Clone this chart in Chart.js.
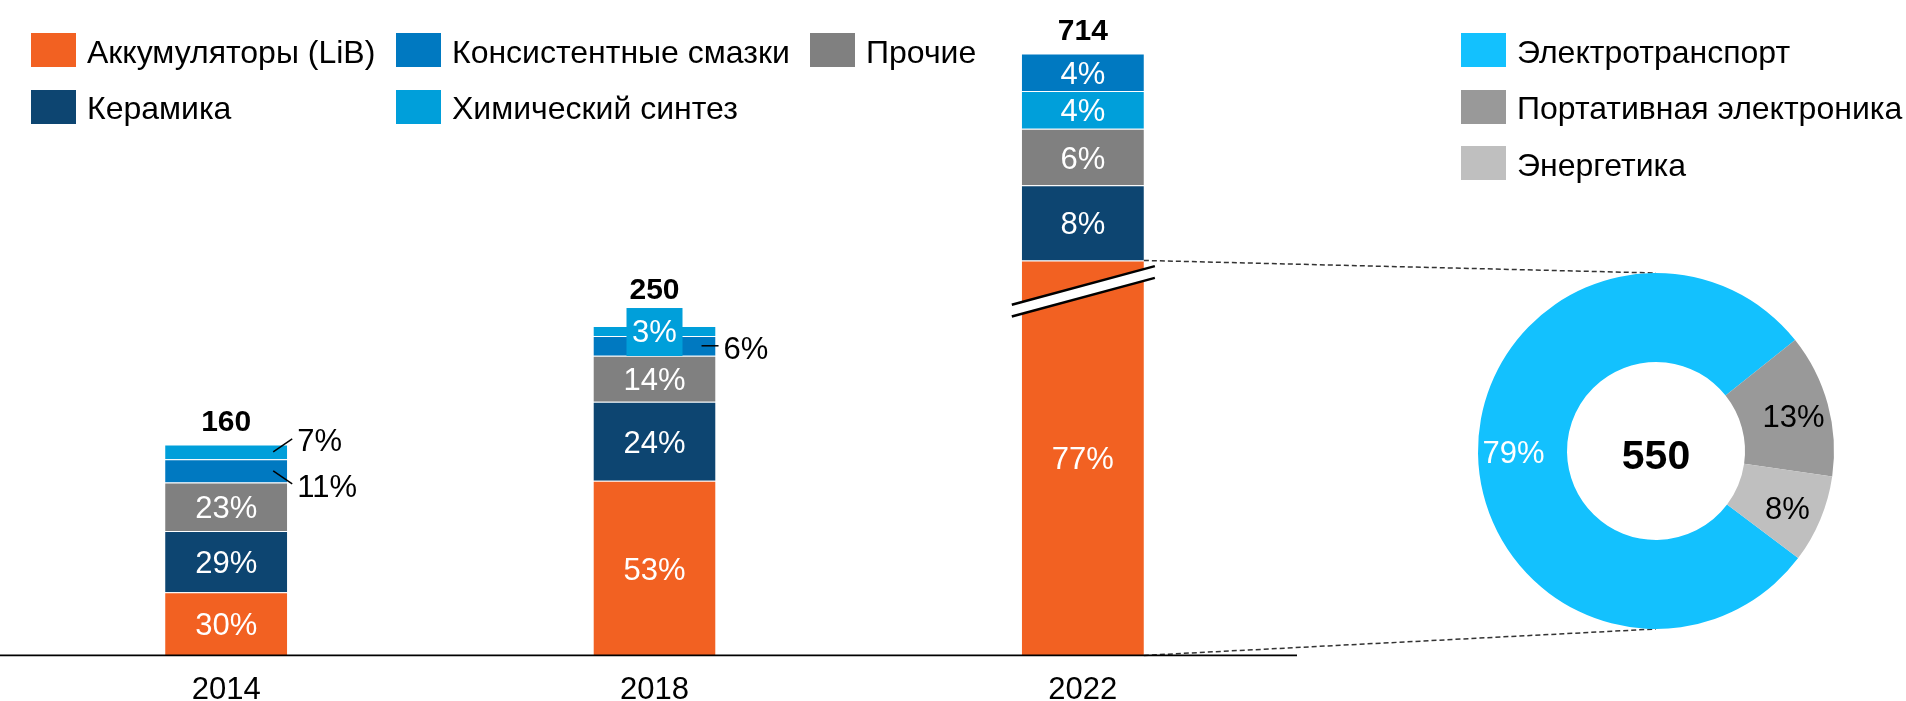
<!DOCTYPE html>
<html lang="ru">
<head>
<meta charset="utf-8">
<script src="https://cdn.jsdelivr.net/npm/chart.js@4.4.1/dist/chart.umd.min.js"></script>
<style>
  html, body { margin: 0; padding: 0; background: #fff; overflow: hidden; }
  body { width: 1906px; height: 701px; position: relative; font-family: "Liberation Sans", Arial, sans-serif; }
  canvas { position: absolute; left: 0; top: 0; }
  .legend { position: absolute; display: grid; row-gap: 22.7px; font-size: 32px; color: #000; }
  .item { display: flex; align-items: center; white-space: nowrap; height: 34px; }
  .sw { width: 45px; height: 34px; margin-right: 11px; flex: none; }
  .item span { position: relative; top: 2px; }
</style>
</head>
<body>
<canvas id="barChart" width="1906" height="740"></canvas>
<canvas id="donutChart" width="1906" height="740"></canvas>
<div id="legendLeft" class="legend" style="left:31px; top:33px; grid-template-columns: 365px 414px auto;"></div>
<div id="legendRight" class="legend" style="left:1461px; top:33px; grid-template-columns: auto;"></div>
<script>
const FONT = '"Liberation Sans", Arial, sans-serif';

// Рынок по годам
const years = ['2014', '2018', '2022'];
const totals = [160, 250, 714];
const segments = ['Аккумуляторы (LiB)', 'Керамика', 'Прочие', 'Консистентные смазки', 'Химический синтез'];
const segmentColors = ['#f26122', '#0d4571', '#808080', '#0079c1', '#009fda'];
const shareLiB     = [30, 53, 77];
const shareCeramic = [29, 24, 8];
const shareOther   = [23, 14, 6];
const shareGrease  = [11, 6, 4];
const shareSynth   = [7, 3, 4];

// порядок сегментов снизу вверх в каждом столбце
const stackOrder = [
    [0, 1, 2, 3, 4],
    [0, 1, 2, 3, 4],
    [0, 1, 2, 4, 3]
];
// разрыв оси: сколько единиц LiB 2022 не показано
const AXIS_BREAK = 250;

// LiB 2022 по областям применения
const uses = ['Электротранспорт', 'Портативная электроника', 'Энергетика'];
const useShares = [79, 13, 8];
const useColors = ['#13c1fe', '#999999', '#bfbfbf'];
const lib2022 = 550;

const shares = [shareLiB, shareCeramic, shareOther, shareGrease, shareSynth];
const ranges = segments.map(() => []);
years.forEach((y, i) => {
    let base = 0;
    stackOrder[i].forEach(s => {
        let v = shares[s][i] * totals[i] / 100;
        if (i === 2 && s === 0) v -= AXIS_BREAK;
        ranges[s][i] = [base, base + v];
        base += v;
    });
});

// мелкие сегменты: выноски
const callouts = { '0-4': 'up', '0-3': 'down', '1-3': 'flat', '1-4': 'box' };

// легенды
const legendLeftOrder = [0, 3, 2, 1, 4];
document.getElementById('legendLeft').innerHTML = legendLeftOrder.map(s =>
    `<div class="item"><div class="sw" style="background:${segmentColors[s]}"></div><span>${segments[s]}</span></div>`).join('');
document.getElementById('legendRight').innerHTML = uses.map((u, i) =>
    `<div class="item"><div class="sw" style="background:${useColors[i]}"></div><span>${u}</span></div>`).join('');

const donutLabels = {
    id: 'donutLabels',
    afterDatasetsDraw(chart) {
        const ctx = chart.ctx;
        const arcs = chart.getDatasetMeta(0).data;
        ctx.save();
        ctx.textAlign = 'center';
        ctx.textBaseline = 'middle';
        ctx.font = `31px ${FONT}`;
        arcs.forEach((arc, i) => {
            const p = arc.getProps(['x', 'y', 'startAngle', 'endAngle', 'innerRadius', 'outerRadius'], true);
            const mid = (p.startAngle + p.endAngle) / 2;
            const r = p.innerRadius + (p.outerRadius - p.innerRadius) * 0.6;
            ctx.fillStyle = i === 0 ? '#fff' : '#000';
            ctx.fillText(useShares[i] + '%', p.x + Math.cos(mid) * r, p.y + Math.sin(mid) * r + (i === 0 ? 1 : 5));
        });
        const c = arcs[0];
        ctx.fillStyle = '#000';
        ctx.font = `bold 41px ${FONT}`;
        ctx.fillText(String(lib2022), c.x, c.y + 7);
        ctx.restore();
    }
};

const donutChart = new Chart(document.getElementById('donutChart'), {
    type: 'doughnut',
    data: {
        labels: uses,
        datasets: [{ data: useShares, backgroundColor: useColors, borderWidth: 0 }]
    },
    options: {
        responsive: false,
        animation: false,
        rotation: 127,
        cutout: '50%',
        layout: { padding: { left: 1478, right: 72, top: 273, bottom: 111 } },
        plugins: { legend: { display: false }, tooltip: { enabled: false } }
    },
    plugins: [donutLabels]
});

const barDecor = {
    id: 'barDecor',
    afterDatasetsDraw(chart) {
        const ctx = chart.ctx;
        const area = chart.chartArea;
        const bars = (s, i) => chart.getDatasetMeta(s).data[i];
        ctx.save();

        // разрыв на столбце LiB 2022
        const lib = bars(0, 2);
        const left = lib.x - lib.width / 2, right = lib.x + lib.width / 2;
        const cy = lib.y + 31, x0 = left - 10, x1 = right + 11, k = 0.27, gap = 5.9;
        const yAt = (x, d) => cy - (x - lib.x) * k + d;
        ctx.fillStyle = '#fff';
        ctx.beginPath();
        ctx.moveTo(x0, yAt(x0, -gap)); ctx.lineTo(x1, yAt(x1, -gap));
        ctx.lineTo(x1, yAt(x1, gap)); ctx.lineTo(x0, yAt(x0, gap));
        ctx.closePath(); ctx.fill();
        ctx.strokeStyle = '#000'; ctx.lineWidth = 2.5;
        [-gap, gap].forEach(d => {
            ctx.beginPath(); ctx.moveTo(x0, yAt(x0, d)); ctx.lineTo(x1, yAt(x1, d)); ctx.stroke();
        });

        // подписи сегментов
        ctx.font = `31px ${FONT}`;
        ctx.textBaseline = 'middle';
        const boxTop = [];
        years.forEach((y, i) => {
            segments.forEach((name, s) => {
                const b = bars(s, i);
                const r = b.x + b.width / 2, mid = (b.y + b.base) / 2;
                const text = shares[s][i] + '%';
                const kind = callouts[i + '-' + s];
                ctx.lineWidth = 1.5; ctx.strokeStyle = '#000';
                if (kind === 'up' || kind === 'down' || kind === 'flat') {
                    const dy = kind === 'up' ? -13 : kind === 'down' ? 13 : 0;
                    ctx.beginPath(); ctx.moveTo(r - 14, mid); ctx.lineTo(r + (dy ? 5 : 3), mid + dy); ctx.stroke();
                    ctx.fillStyle = '#000'; ctx.textAlign = 'left';
                    ctx.fillText(text, r + (dy ? 10 : 8), mid + (kind === 'up' ? -10 : kind === 'down' ? 18 : 5));
                } else if (kind === 'box') {
                    const top = b.y - 18;
                    boxTop[i] = top;
                    ctx.fillStyle = segmentColors[s];
                    ctx.fillRect(b.x - 28, top, 56, 48);
                    ctx.fillStyle = '#fff'; ctx.textAlign = 'center';
                    ctx.fillText(text, b.x, top + 25);
                } else {
                    ctx.fillStyle = '#fff'; ctx.textAlign = 'center';
                    ctx.fillText(text, b.x, mid + 3);
                }
            });
            // итог над столбцом
            const top = Math.min(...segments.map((n, s) => bars(s, i).y));
            ctx.fillStyle = '#000'; ctx.textAlign = 'center';
            ctx.font = `bold 30px ${FONT}`;
            ctx.fillText(String(totals[i]), bars(0, i).x, boxTop[i] !== undefined ? boxTop[i] - 17 : top - 22);
            ctx.font = `31px ${FONT}`;
        });

        // пунктир к кольцу
        const arc = donutChart.getDatasetMeta(0).data[0];
        ctx.setLineDash([5, 3]);
        ctx.strokeStyle = '#333'; ctx.lineWidth = 1.5;
        ctx.beginPath(); ctx.moveTo(right, lib.y); ctx.lineTo(arc.x, arc.y - arc.outerRadius); ctx.stroke();
        ctx.beginPath(); ctx.moveTo(right, lib.base); ctx.lineTo(arc.x, arc.y + arc.outerRadius); ctx.stroke();
        ctx.setLineDash([]);

        // базовая линия
        ctx.strokeStyle = '#000'; ctx.lineWidth = 1.6;
        ctx.beginPath(); ctx.moveTo(0, area.bottom); ctx.lineTo(area.right, area.bottom); ctx.stroke();
        ctx.restore();
    }
};

const barChart = new Chart(document.getElementById('barChart'), {
    type: 'bar',
    data: {
        labels: years,
        datasets: segments.map((name, s) => ({
            label: name,
            data: ranges[s],
            backgroundColor: segmentColors[s],
            borderColor: 'rgba(255,255,255,0.55)',
            borderWidth: { top: 1 },
            categoryPercentage: 1,
            barPercentage: 0.285
        }))
    },
    options: {
        responsive: false,
        animation: false,
        layout: { padding: { left: 12, right: 609, top: 23, bottom: 15.4 } },
        plugins: { legend: { display: false }, tooltip: { enabled: false } },
        scales: {
            x: {
                stacked: true,
                offset: true,
                grid: { display: false, drawTicks: false },
                border: { display: false },
                ticks: { color: '#000', padding: 16, font: { size: 31, family: FONT } }
            },
            y: { stacked: false, min: 0, max: 480, display: false }
        }
    },
    plugins: [barDecor]
});
</script>
</body>
</html>
